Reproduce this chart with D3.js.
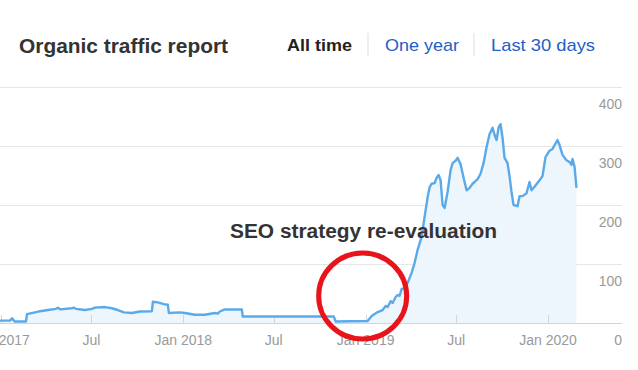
<!DOCTYPE html>
<html><head><meta charset="utf-8">
<script src="https://cdn.jsdelivr.net/npm/d3@7"></script>
<style>body{margin:0;background:#fff}svg{display:block}</style>
</head><body><svg id="c" width="638" height="370"></svg>
<script>
const title = "Organic traffic report";
const tabs = ["All time", "One year", "Last 30 days"];
const annotation = "SEO strategy re-evaluation";
const yTicks = [0, 100, 200, 300, 400];
const xTicks = ["2017-01-01","2017-07-01","2018-01-01","2018-07-01","2019-01-01","2019-07-01","2020-01-01"];
const xTickLabels = ["Jan 2017","Jul","Jan 2018","Jul","Jan 2019","Jul","Jan 2020"];
const highlightDate = "2019-01-01";
const dates = ["2016-12-22","2017-01-19","2017-01-23","2017-01-27","2017-01-29","2017-02-20","2017-02-22","2017-03-10","2017-03-20","2017-04-05","2017-04-21","2017-04-25","2017-04-29","2017-05-23","2017-05-27","2017-05-31","2017-06-18","2017-07-02","2017-07-08","2017-07-28","2017-08-11","2017-08-23","2017-09-04","2017-09-20","2017-10-06","2017-10-30","2017-11-01","2017-11-11","2017-11-23","2017-12-01","2017-12-03","2017-12-25","2018-01-04","2018-01-24","2018-02-13","2018-03-05","2018-03-11","2018-03-15","2018-03-25","2018-04-28","2018-04-30","2018-10-29","2018-11-02","2019-01-05","2019-01-13","2019-01-25","2019-02-04","2019-02-10","2019-02-14","2019-02-20","2019-02-24","2019-03-02","2019-03-06","2019-03-10","2019-03-14","2019-03-20","2019-03-26","2019-04-03","2019-04-09","2019-04-15","2019-04-23","2019-04-29","2019-05-05","2019-05-09","2019-05-13","2019-05-19","2019-05-23","2019-05-27","2019-05-31","2019-06-04","2019-06-08","2019-06-14","2019-06-20","2019-06-24","2019-06-30","2019-07-04","2019-07-10","2019-07-16","2019-07-22","2019-07-28","2019-08-03","2019-08-07","2019-08-13","2019-08-19","2019-08-25","2019-08-31","2019-09-06","2019-09-12","2019-09-16","2019-09-20","2019-09-24","2019-09-28","2019-10-02","2019-10-06","2019-10-12","2019-10-16","2019-10-20","2019-10-24","2019-11-01","2019-11-05","2019-11-11","2019-11-19","2019-11-25","2019-11-29","2019-12-05","2019-12-15","2019-12-21","2019-12-27","2020-01-04","2020-01-10","2020-01-18","2020-01-20","2020-01-24","2020-01-30","2020-02-07","2020-02-13","2020-02-17","2020-02-19","2020-02-23","2020-02-27"];
const traffic = [4,4,8,4,2.5,2.5,15,18,20,22,24,26,23,25,26,24,22,24,26,27,25,22,18,17,19.5,20,36,35,32,31,17,18,17,14,14,17,16,19.5,23,23,11,11,2.5,3.4,12,18.6,22,29,27,37,34,44,47.5,46,57.6,59,68,85,102,124,146,180,213,230,236,237,246,251,242,200,195,222,259,271,275,280,269,246,225,229,236,239,244,253,271,298,320,331,319,310,331,337,314,280,271,249,222,200,198,215,215,220,239,225,231,242,249,281,292,295,307,310,302,285,276,273,268,278,266,229];

const parse = d3.timeParse("%Y-%m-%d");
const data = dates.map((d,i)=>({date:parse(d), v:traffic[i]}));
const svg = d3.select("#c");
const font = "'Liberation Sans', Arial, Helvetica, sans-serif";

const x = d3.scaleTime().domain([parse("2017-01-01"), parse("2020-01-01")]).range([1, 548]);
const y = d3.scaleLinear().domain([0, 400]).range([323, 87]);

// header
svg.append("text").attr("x",19).attr("y",53).attr("font-family",font).attr("font-size",20.5)
  .attr("font-weight","bold").attr("fill","#333").attr("textLength",209).attr("lengthAdjust","spacingAndGlyphs").text(title);
const tabX = [287, 385, 491];
const tabW = [65, 74, 104];
tabs.forEach((t,i)=>{
  svg.append("text").attr("x",tabX[i]).attr("y",51).attr("font-family",font).attr("font-size",17)
    .attr("font-weight", i===0?"bold":"normal").attr("fill", i===0?"#222":"#2060c8")
    .attr("textLength",tabW[i]).attr("lengthAdjust","spacingAndGlyphs").text(t);
});
[368, 474].forEach(sx=>svg.append("line").attr("x1",sx).attr("x2",sx).attr("y1",33).attr("y2",56)
  .attr("stroke","#ddd").attr("stroke-width",1));

// grid
const g = svg.append("g");
g.selectAll("line.grid").data(yTicks.filter(t=>t>0)).join("line")
  .attr("x1",0).attr("x2",622).attr("y1",d=>Math.round(y(d))+0.5).attr("y2",d=>Math.round(y(d))+0.5)
  .attr("stroke","#e6e6e6");
g.selectAll("text.yl").data(yTicks).join("text")
  .attr("x",622).attr("y",d=>y(d)+22).attr("text-anchor","end").attr("font-family",font)
  .attr("font-size",14).attr("fill","#999").text(d=>d);

// area + line
const area = d3.area().x(d=>x(d.date)).y0(y(0)).y1(d=>y(d.v));
const line = d3.line().x(d=>x(d.date)).y(d=>y(d.v));
svg.append("path").datum(data).attr("d",area).attr("fill","#edf5fd");
// baseline + ticks
svg.append("line").attr("x1",0).attr("x2",622).attr("y1",323.5).attr("y2",323.5).attr("stroke","#d4d4d4");
const xt = xTicks.map(parse);
svg.selectAll("line.xt").data(xt).join("line")
  .attr("x1",d=>Math.round(x(d))+0.5).attr("x2",d=>Math.round(x(d))+0.5).attr("y1",315).attr("y2",323)
  .attr("stroke","#d4d4d4");
svg.selectAll("text.xl").data(xt).join("text")
  .attr("x",d=>x(d)).attr("y",345).attr("text-anchor","middle").attr("font-family",font)
  .attr("font-size",14).attr("fill","#999").text((d,i)=>xTickLabels[i]);

svg.append("path").datum(data).attr("d",line).attr("fill","none").attr("stroke","#5aaaea")
  .attr("stroke-width",2.4).attr("stroke-linejoin","round");

// annotation
svg.append("text").attr("x",230).attr("y",238).attr("font-family",font).attr("font-size",20)
  .attr("font-weight","bold").attr("fill","#333").attr("textLength",267).attr("lengthAdjust","spacingAndGlyphs").text(annotation);
svg.append("ellipse").attr("cx",x(parse(highlightDate))-3).attr("cy",296).attr("rx",44).attr("ry",43)
  .attr("fill","none").attr("stroke","#e8141c").attr("stroke-width",5);
</script></body></html>
